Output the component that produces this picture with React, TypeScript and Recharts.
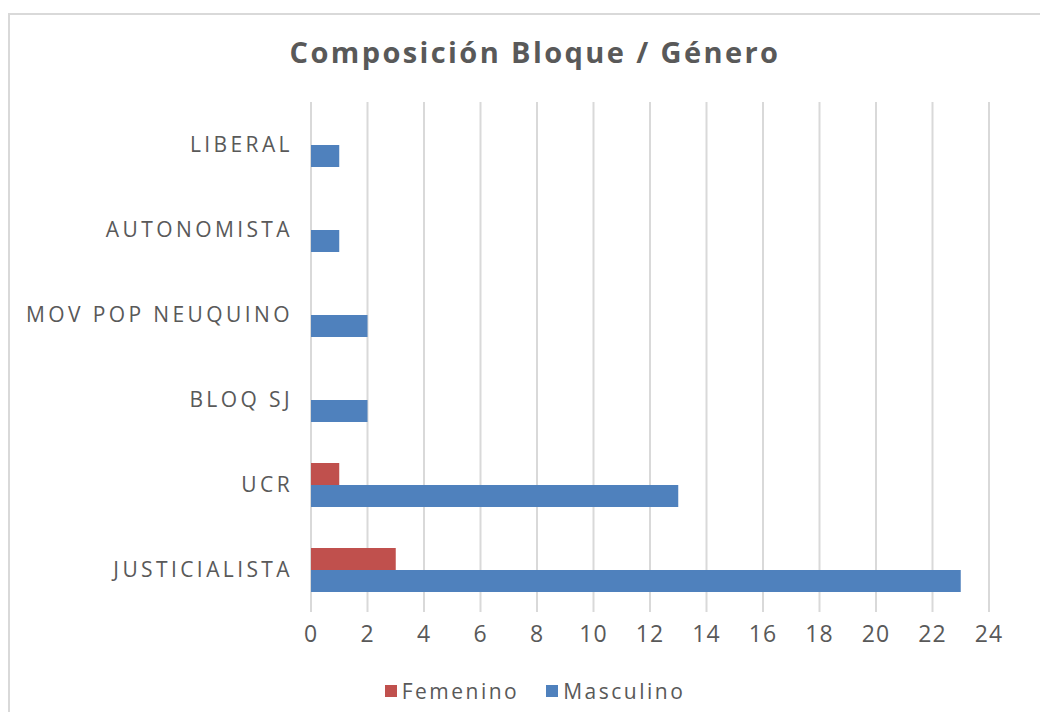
import { Bar, BarChart, CartesianGrid, Legend, XAxis, YAxis } from 'recharts'

const bloques = ['LIBERAL', 'AUTONOMISTA', 'MOV POP NEUQUINO', 'BLOQ SJ', 'UCR', 'JUSTICIALISTA']
const femenino = [0, 0, 0, 0, 1, 3]
const masculino = [1, 1, 2, 2, 13, 23]
const xTicks = [0, 2, 4, 6, 8, 10, 12, 14, 16, 18, 20, 22, 24]
const series = [
  { key: 'Femenino', color: '#c0504d' },
  { key: 'Masculino', color: '#4f81bd' },
]

const data = bloques.map((name, i) => ({
  name,
  Femenino: femenino[i],
  Masculino: masculino[i],
}))

const FONT = '"Open Sans", sans-serif'
const TEXT = '#595959'

function LegendBox() {
  return (
    <div
      style={{
        height: 30,
        display: 'flex',
        justifyContent: 'center',
        alignItems: 'center',
        gap: 27,
        fontFamily: FONT,
        fontSize: 21,
        letterSpacing: 2.5,
        color: TEXT,
      }}
    >
      {series.map((s) => (
        <span key={s.key} style={{ display: 'flex', alignItems: 'center' }}>
          <span style={{ width: 12, height: 12, background: s.color, marginRight: 5 }} />
          {s.key}
        </span>
      ))}
    </div>
  )
}

export default function App() {
  return (
    <div style={{ position: 'relative', width: 1040, height: 704, overflow: 'hidden', fontFamily: FONT }}>
      <div
        style={{
          position: 'absolute',
          left: 0,
          top: 5,
          width: 1100,
          height: 800,
          border: '2px solid #d9d9d9',
        }}
      />
      <div
        style={{
          position: 'absolute',
          left: 0,
          top: 24,
          width: 1054,
          textAlign: 'center',
          fontSize: 29,
          fontWeight: 700,
          letterSpacing: 2.4,
          color: TEXT,
        }}
      >
        Composición Bloque / Género
      </div>
      <div style={{ position: 'absolute', left: 0, top: 0 }}>
        <BarChart
          width={1040}
          height={704}
          data={data}
          layout="vertical"
          margin={{ top: 94, right: 59, left: 0, bottom: 30 }}
          barSize={22}
          barGap={0}
        >
          <CartesianGrid horizontal={false} stroke="#d9d9d9" strokeWidth={2} />
          <XAxis
            type="number"
            domain={[0, 24]}
            ticks={xTicks}
            axisLine={false}
            tickLine={false}
            tickMargin={8}
            height={40}
            tick={{ fontSize: 23, fill: TEXT, fontFamily: FONT, letterSpacing: 1 }}
          />
          <YAxis
            type="category"
            dataKey="name"
            width={303}
            axisLine={false}
            tickLine={false}
            tickMargin={12}
            tick={{ fontSize: 21, fill: TEXT, fontFamily: FONT, letterSpacing: 3.4 }}
          />
          <Legend
            verticalAlign="bottom"
            content={() => <LegendBox />}
            wrapperStyle={{ top: 668, bottom: 'auto', left: 0, width: 1054 }}
          />
          <Bar dataKey="Femenino" fill="#c0504d" isAnimationActive={false} />
          <Bar dataKey="Masculino" fill="#4f81bd" isAnimationActive={false} />
        </BarChart>
      </div>
    </div>
  )
}
